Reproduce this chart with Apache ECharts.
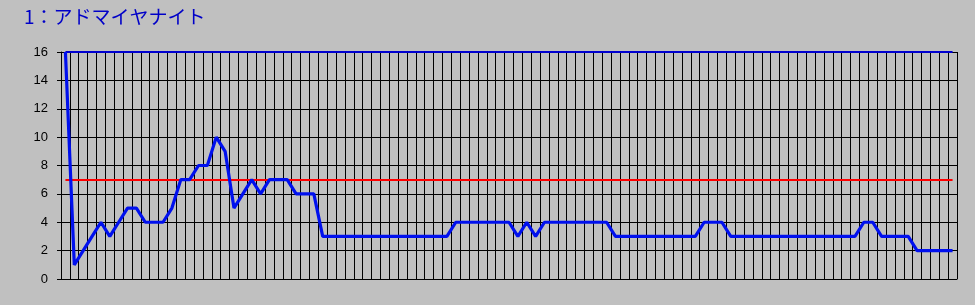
<!DOCTYPE html>
<html>
<head>
<meta charset="utf-8">
<script src="https://cdn.jsdelivr.net/npm/echarts@6/dist/echarts.min.js"></script>
<style>
html,body{margin:0;padding:0;background:#c0c0c0;}
#chart{width:975px;height:305px;}
</style>
</head>
<body>
<div id="chart"></div>
<script>
const titleText = '1：アドマイヤナイト';
const categories = [];
for (let i = 1; i <= 101; i++) categories.push(String(i));
const values = [
  16, 1, 2, 3, 4, 3, 4, 5, 5, 4,
  4, 4, 5, 7, 7, 8, 8, 10, 9, 5,
  6, 7, 6, 7, 7, 7, 6, 6, 6, 3,
  3, 3, 3, 3, 3, 3, 3, 3, 3, 3,
  3, 3, 3, 3, 4, 4, 4, 4, 4, 4,
  4, 3, 4, 3, 4, 4, 4, 4, 4, 4,
  4, 4, 3, 3, 3, 3, 3, 3, 3, 3,
  3, 3, 4, 4, 4, 3, 3, 3, 3, 3,
  3, 3, 3, 3, 3, 3, 3, 3, 3, 3,
  4, 4, 3, 3, 3, 3, 2, 2, 2, 2,
  2
];
const refLevel = 7;
const topLevel = 16;
const yTicks = [0, 2, 4, 6, 8, 10, 12, 14, 16];

const chart = echarts.init(document.getElementById('chart'), null, {renderer: 'canvas'});
const first = categories[0], last = categories[categories.length - 1];
chart.setOption({
  backgroundColor: '#c0c0c0',
  animation: false,
  title: {
    text: titleText,
    left: 19,
    top: 2,
    textStyle: {
      fontFamily: '"Noto Sans CJK JP", sans-serif',
      fontSize: 19,
      fontWeight: 'normal',
      color: '#0000c8'
    }
  },
  grid: {left: 61, right: 18, top: 52, bottom: 26, containLabel: false},
  xAxis: {
    type: 'category',
    data: categories,
    boundaryGap: true,
    axisLine: {show: true, lineStyle: {color: '#000', width: 1}},
    axisTick: {show: false},
    axisLabel: {show: false},
    splitLine: {show: true, interval: 0, lineStyle: {color: '#000', width: 1}}
  },
  yAxis: {
    type: 'value',
    min: yTicks[0],
    max: yTicks[yTicks.length - 1],
    interval: 2,
    axisLine: {show: true, lineStyle: {color: '#000', width: 1}},
    axisTick: {show: true, length: 4, lineStyle: {color: '#000'}},
    axisLabel: {
      margin: 13,
      color: '#000',
      fontSize: 13,
      fontFamily: '"Liberation Sans", Arial, sans-serif'
    },
    splitLine: {show: true, lineStyle: {color: '#000', width: 1}}
  },
  series: [
    {
      type: 'line',
      data: [],
      silent: true,
      z: 3,
      markLine: {
        silent: true,
        symbol: ['none', 'none'],
        label: {show: false},
        animation: false,
        data: [
          [{coord: [first, refLevel], lineStyle: {color: '#ff0000', width: 2, type: 'solid'}},
           {coord: [last, refLevel]}],
          [{coord: [first, topLevel], lineStyle: {color: '#0000d0', width: 2, type: 'solid'}},
           {coord: [last, topLevel]}]
        ]
      }
    },
    {
      type: 'line',
      data: values,
      symbol: 'none',
      z: 5,
      lineStyle: {color: '#0010ee', width: 3.2},
      itemStyle: {color: '#0010ee'}
    }
  ]
});
</script>
</body>
</html>
